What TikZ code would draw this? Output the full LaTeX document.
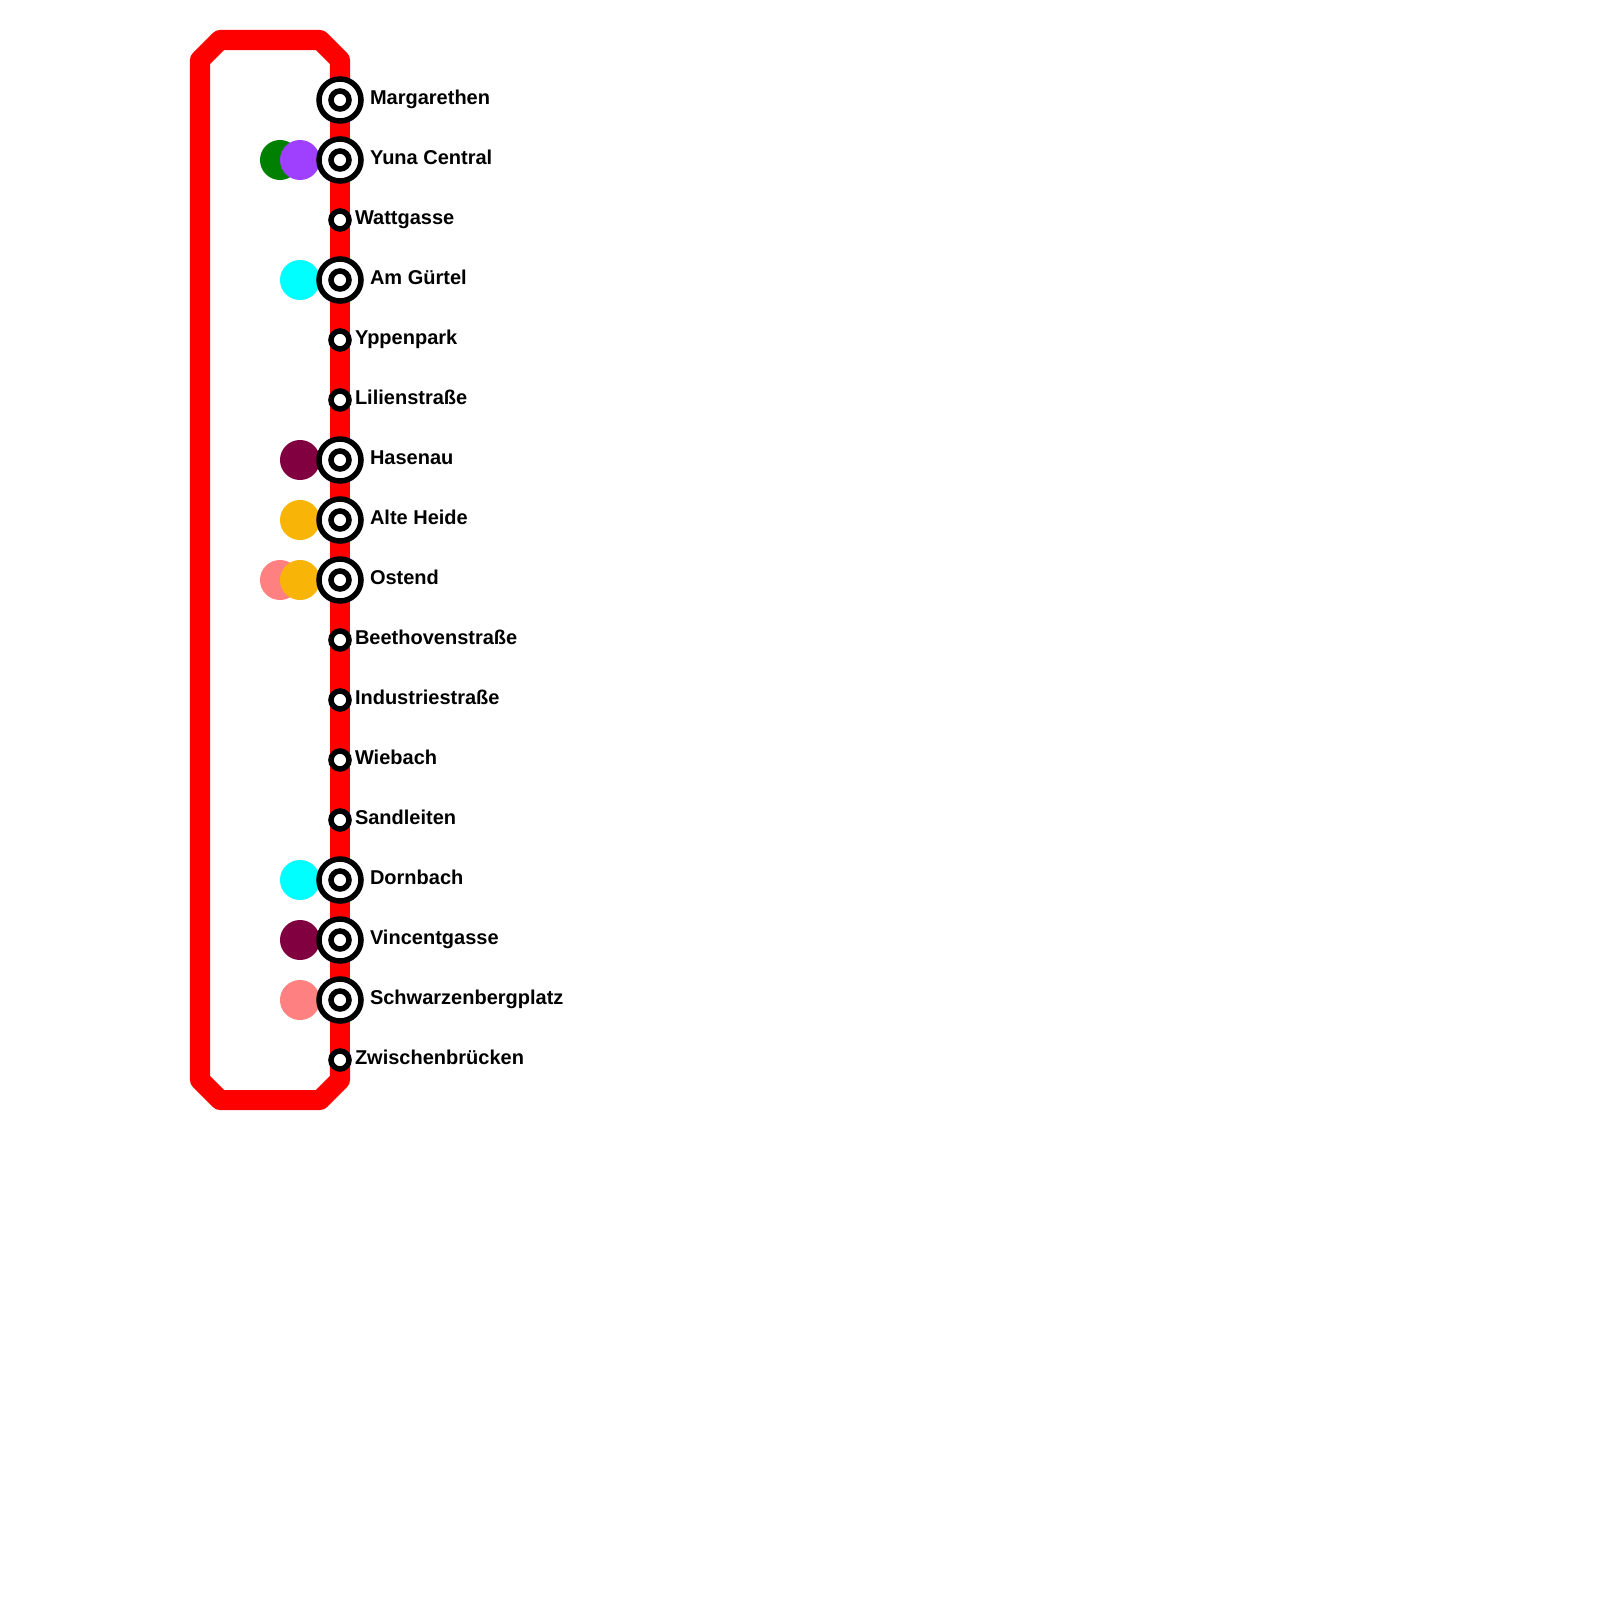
\documentclass[tikz,border=0pt]{standalone}
\usepackage{fontspec}
\setmainfont{Liberation Sans}
\usepackage{xcolor}
\usetikzlibrary{backgrounds}
\definecolor{lineRed}{HTML}{FF0000}
\definecolor{lineGreen}{HTML}{008000}
\definecolor{linePurple}{HTML}{A040FF}
\definecolor{lineCyan}{HTML}{00FFFF}
\definecolor{lineWine}{HTML}{800040}
\definecolor{lineAmber}{HTML}{F8B508}
\definecolor{linePink}{HTML}{FF8080}
\tikzset{
    bigstop/.style={circle, draw=black, fill=white, line width=0.055cm, minimum size=0.42cm, inner sep=0pt, outer sep=0pt},
    smallstop/.style={circle, draw=black, fill=white, line width=0.055cm, minimum size=0.18cm, inner sep=0pt, outer sep=0pt},
    dot/.style={circle, fill=#1, minimum size=0.40cm, inner sep=0pt, outer sep=0pt},
    stoplabel/.style={anchor=base west, inner sep=0pt, outer sep=0pt, font=\fontsize{5.69pt}{6pt}\selectfont\bfseries}
}

\begin{document}
\begin{tikzpicture}[x=0.01cm, y=-0.01cm]
    \useasboundingbox (0,0) rectangle (1600,1600);

    \node[dot=lineGreen] (yunaGreen) at (280,160) {};
    \node[dot=linePurple] (yunaPurple) at (300,160) {};
    \node[dot=lineCyan] (guertelCyan) at (300,280) {};
    \node[dot=lineWine] (hasenauWine) at (300,460) {};
    \node[dot=lineAmber] (heideAmber) at (300,520) {};
    \node[dot=linePink] (ostendPink) at (280,580) {};
    \node[dot=lineAmber] (ostendAmber) at (300,580) {};
    \node[dot=lineCyan] (dornbachCyan) at (300,880) {};
    \node[dot=lineWine] (vincentWine) at (300,940) {};
    \node[dot=linePink] (schwarzPink) at (300,1000) {};

    \node[bigstop] (margarethen) at (340,100) {};
    \node[smallstop] (margarethenInner) at (340,100) {};
    \node[stoplabel] (margarethenLabel) at (370,104.5) {Margarethen};

    \node[bigstop] (yuna) at (340,160) {};
    \node[smallstop] (yunaInner) at (340,160) {};
    \node[stoplabel] (yunaLabel) at (370,164.5) {Yuna Central};

    \node[smallstop] (wattgasse) at (340,220) {};
    \node[stoplabel] (wattgasseLabel) at (355,224.5) {Wattgasse};

    \node[bigstop] (guertel) at (340,280) {};
    \node[smallstop] (guertelInner) at (340,280) {};
    \node[stoplabel] (guertelLabel) at (370,284.5) {Am Gürtel};

    \node[smallstop] (yppenpark) at (340,340) {};
    \node[stoplabel] (yppenparkLabel) at (355,344.5) {Yppenpark};

    \node[smallstop] (lilien) at (340,400) {};
    \node[stoplabel] (lilienLabel) at (355,404.5) {Lilienstraße};

    \node[bigstop] (hasenau) at (340,460) {};
    \node[smallstop] (hasenauInner) at (340,460) {};
    \node[stoplabel] (hasenauLabel) at (370,464.5) {Hasenau};

    \node[bigstop] (heide) at (340,520) {};
    \node[smallstop] (heideInner) at (340,520) {};
    \node[stoplabel] (heideLabel) at (370,524.5) {Alte Heide};

    \node[bigstop] (ostend) at (340,580) {};
    \node[smallstop] (ostendInner) at (340,580) {};
    \node[stoplabel] (ostendLabel) at (370,584.5) {Ostend};

    \node[smallstop] (beethoven) at (340,640) {};
    \node[stoplabel] (beethovenLabel) at (355,644.5) {Beethovenstraße};

    \node[smallstop] (industrie) at (340,700) {};
    \node[stoplabel] (industrieLabel) at (355,704.5) {Industriestraße};

    \node[smallstop] (wiebach) at (340,760) {};
    \node[stoplabel] (wiebachLabel) at (355,764.5) {Wiebach};

    \node[smallstop] (sandleiten) at (340,820) {};
    \node[stoplabel] (sandleitenLabel) at (355,824.5) {Sandleiten};

    \node[bigstop] (dornbach) at (340,880) {};
    \node[smallstop] (dornbachInner) at (340,880) {};
    \node[stoplabel] (dornbachLabel) at (370,884.5) {Dornbach};

    \node[bigstop] (vincent) at (340,940) {};
    \node[smallstop] (vincentInner) at (340,940) {};
    \node[stoplabel] (vincentLabel) at (370,944.5) {Vincentgasse};

    \node[bigstop] (schwarz) at (340,1000) {};
    \node[smallstop] (schwarzInner) at (340,1000) {};
    \node[stoplabel] (schwarzLabel) at (370,1004.5) {Schwarzenbergplatz};

    \node[smallstop] (zwischen) at (340,1060) {};
    \node[stoplabel] (zwischenLabel) at (355,1064.5) {Zwischenbrücken};

    \coordinate (topRight) at (340,60);
    \coordinate (topMid) at (320,40);
    \coordinate (topMidLeft) at (220,40);
    \coordinate (topLeft) at (200,60);
    \coordinate (bottomLeft) at (200,1080);
    \coordinate (bottomMidLeft) at (220,1100);
    \coordinate (bottomMid) at (320,1100);
    \coordinate (bottomRight) at (340,1080);

    \begin{scope}[on background layer]
        \draw[lineRed, line width=0.2cm, line join=round] (margarethen.center) -- (topRight) -- (topMid) -- (topMidLeft) -- (topLeft) -- (bottomLeft) -- (bottomMidLeft) -- (bottomMid) -- (bottomRight) -- (zwischen.center);
        \draw[lineRed, line width=0.2cm] (margarethen.center) -- (zwischen.center);
    \end{scope}
\end{tikzpicture}
\end{document}
